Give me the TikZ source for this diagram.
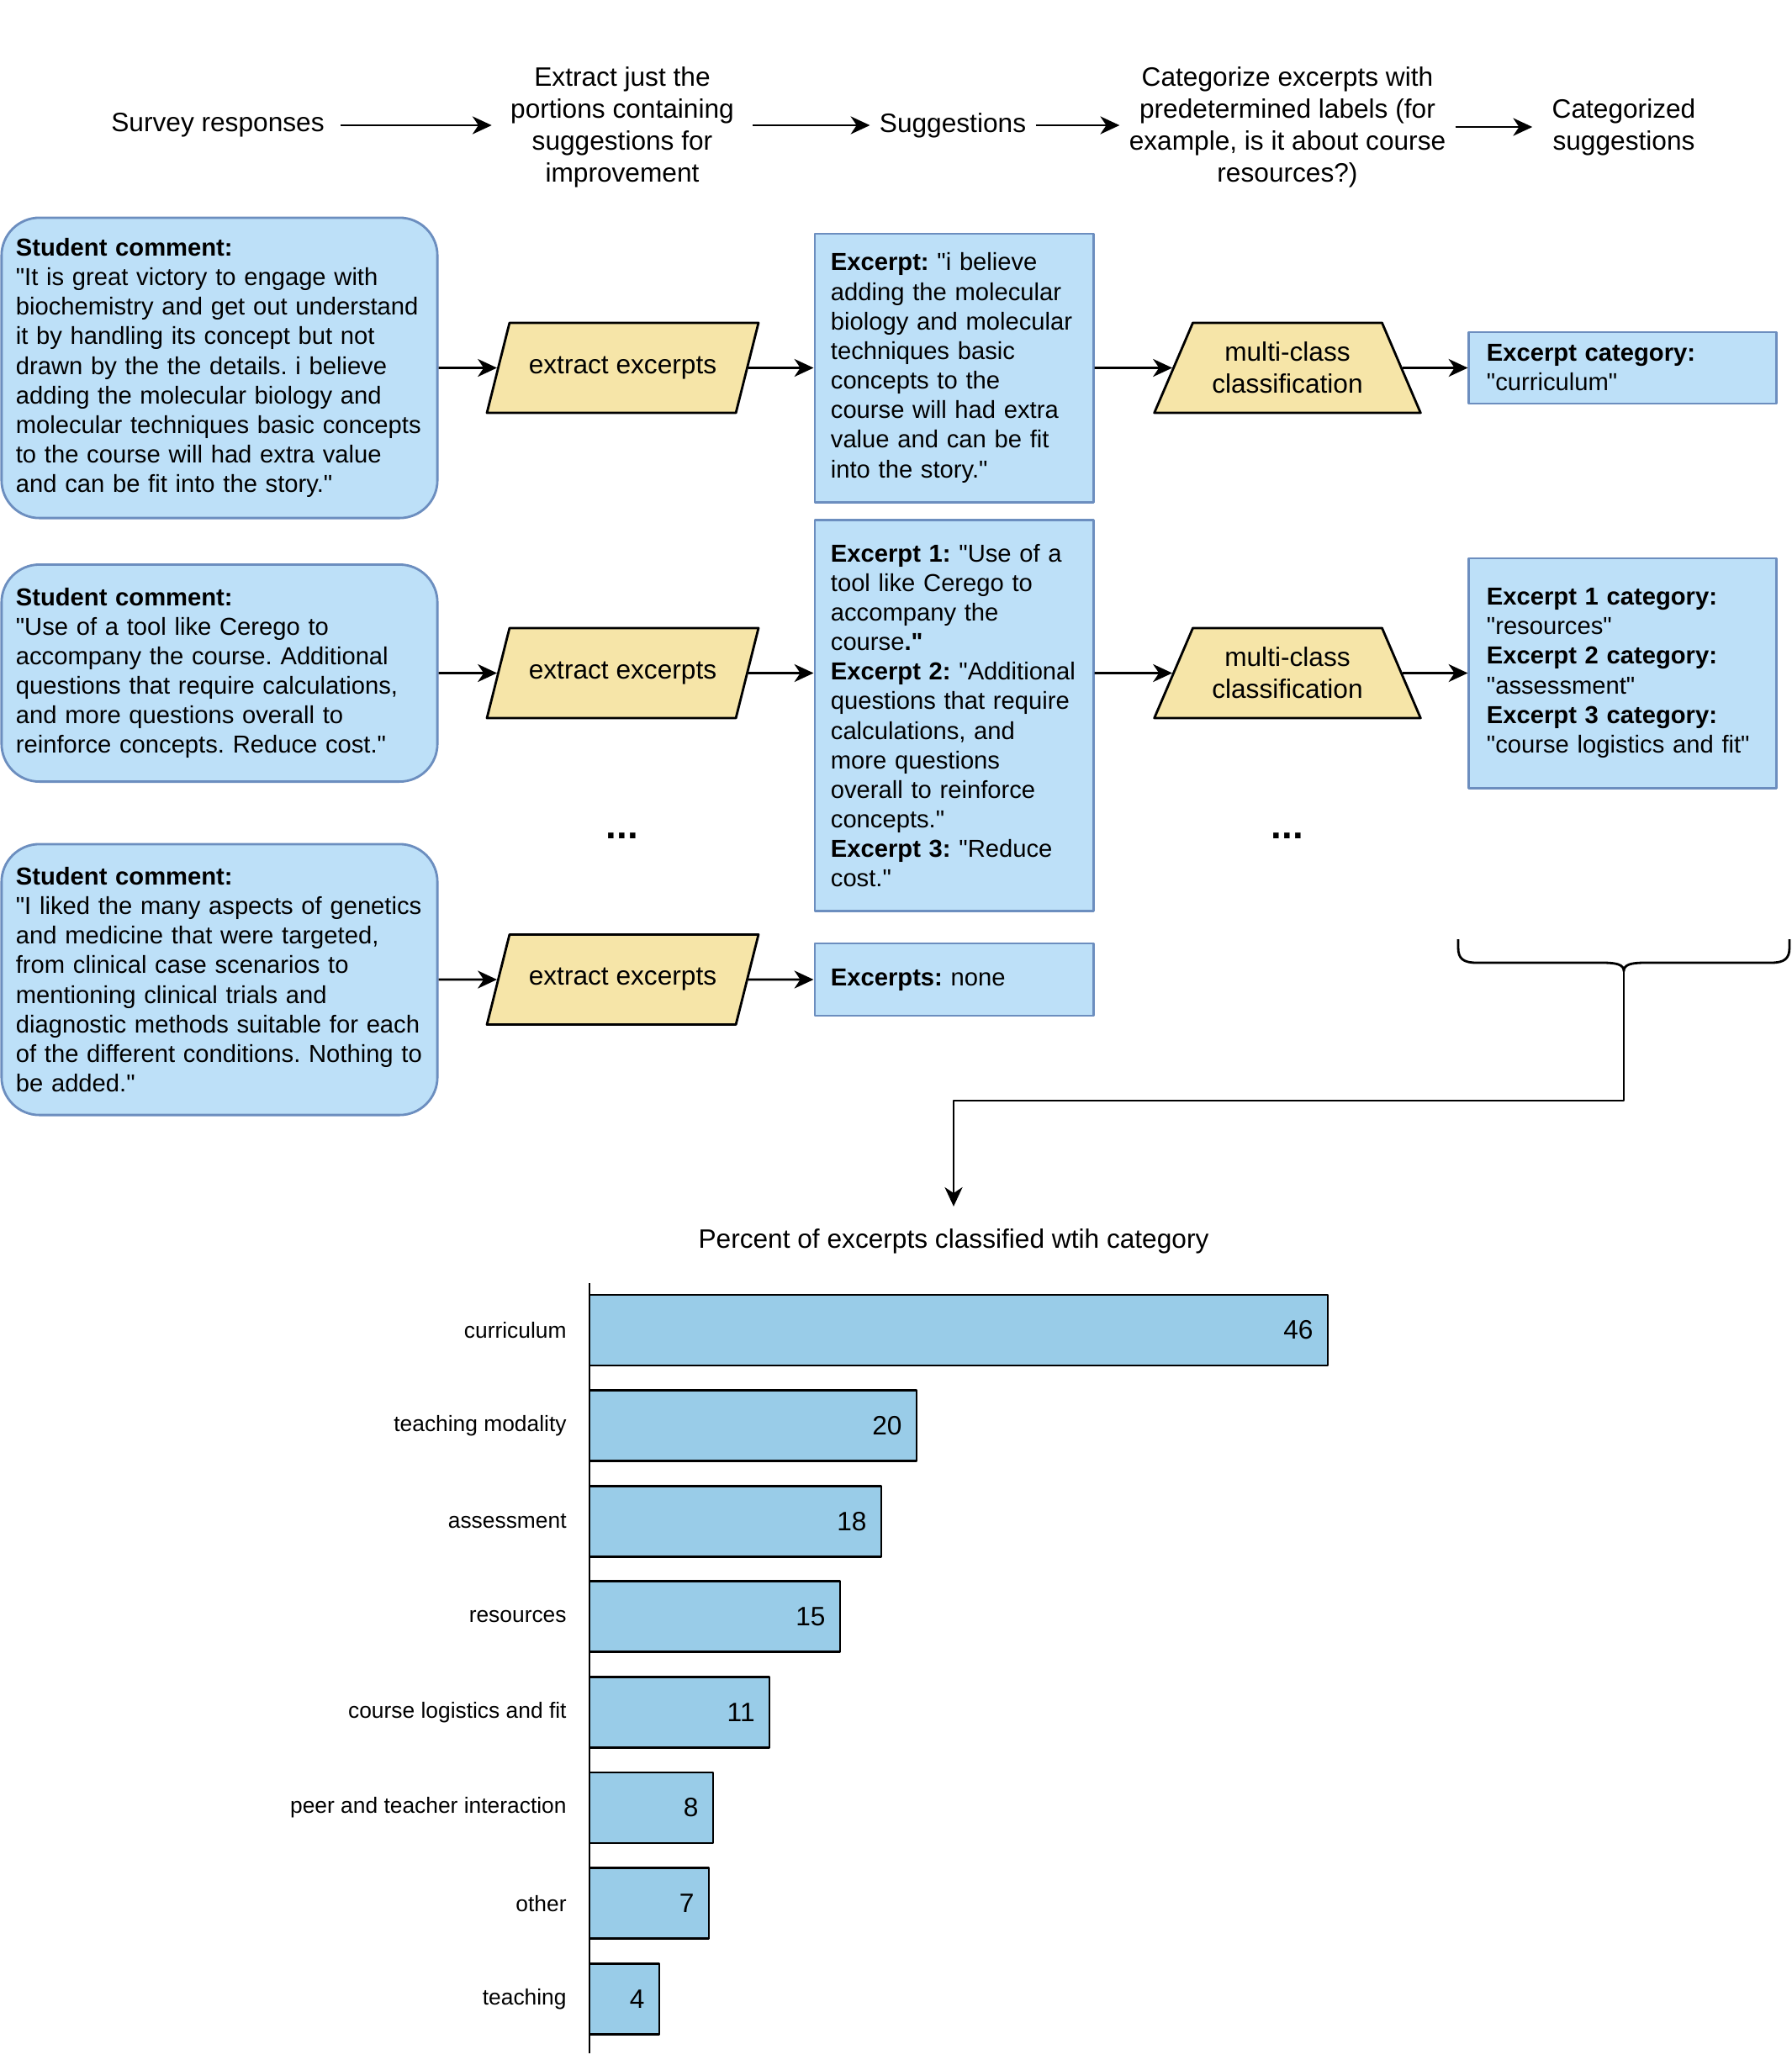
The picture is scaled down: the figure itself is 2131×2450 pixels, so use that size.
\documentclass[tikz,border=0pt]{standalone}
\usepackage{fontspec}
\setmainfont{Liberation Sans}[Ligatures=TeXOff]
\frenchspacing
\usetikzlibrary{shapes.geometric,arrows.meta,calc}
\definecolor{boxblue}{RGB}{189,224,248}
\definecolor{boxline}{RGB}{108,142,191}
\definecolor{stepyellow}{RGB}{246,229,168}
\definecolor{barblue}{RGB}{153,204,232}
\tikzset{
  toplabel/.style={align=center, inner ysep=0pt, font=\fontsize{9}{10.8}\selectfont},
  comment/.style={draw=boxline, fill=boxblue, line width=0.8pt, rounded corners=0.45cm,
    align=left, inner xsep=0.17cm, text width=4.84cm, font=\fontsize{8.3}{10}\selectfont},
  excerpt/.style={draw=boxline, fill=boxblue, line width=0.8pt, align=left,
    inner xsep=0.19cm, text width=2.93cm, font=\fontsize{8.3}{10}\selectfont},
  category/.style={draw=boxline, fill=boxblue, line width=0.8pt, align=left,
    inner xsep=0.21cm, text width=3.23cm, font=\fontsize{8.3}{10}\selectfont},
  extractbox/.style={trapezium, trapezium left angle=64, trapezium right angle=116,
    trapezium stretches=true, minimum width=3.25cm, minimum height=1.07cm,
    draw, fill=stepyellow, line width=0.8pt, font=\fontsize{9}{10.8}\selectfont},
  classbox/.style={trapezium, trapezium left angle=64, trapezium right angle=64,
    trapezium stretches=true, minimum width=3.17cm, minimum height=1.07cm, align=center,
    draw, fill=stepyellow, line width=0.8pt, font=\fontsize{9}{10.8}\selectfont},
  dots/.style={font=\fontsize{13}{15}\bfseries},
  bar/.style={draw, fill=barblue, line width=0.8pt},
  barlabel/.style={anchor=east, inner sep=0pt, font=\fontsize{7.5}{9}\selectfont},
  barvalue/.style={anchor=east, inner sep=0pt, font=\fontsize{9}{10.8}\selectfont}
}
\begin{document}
\begin{tikzpicture}[x=0.01cm, y=-0.01cm, line join=round, line width=0.8pt,
  >={Stealth[length=6.5pt,width=6pt,inset=2pt]}]
\useasboundingbox (0,0) rectangle (2131,2450);
% header
\node[toplabel, inner xsep=0.18cm] (survey) at (259,149) {Survey responses};
\node[toplabel, inner xsep=0.21cm] (extract) at (740,151) {Extract just the\\portions containing\\suggestions for\\improvement};
\node[toplabel, inner xsep=0.1cm] (sugg) at (1133,149) {Suggestions};
\node[toplabel, inner xsep=0.1cm] (categorize) at (1531,151) {Categorize excerpts with\\predetermined labels (for\\example, is it about course\\resources?)};
\node[toplabel, inner xsep=0.22cm] (result) at (1931,151) {Categorized\\suggestions};
\draw[->] (survey.east) -- (survey.east -| extract.west);
\draw[->] (extract.east |- sugg) -- (sugg.west);
\draw[->] (sugg.east) -- (sugg.east -| categorize.west);
\draw[->] (categorize.east) -- (categorize.east -| result.west);
% student comments
\node[comment, minimum height=3.57cm] (sc1) at (261,437.5) {\textbf{Student comment:}\\
"It is great victory to engage with\\biochemistry and get out understand\\it by handling its concept but not\\drawn by the the details. i believe\\adding the molecular biology and\\molecular techniques basic concepts\\to the course will had extra value\\and can be fit into the story."};
\node[comment, minimum height=2.58cm] (sc2) at (261,800.5) {\textbf{Student comment:}\\
"Use of a tool like Cerego to\\accompany the course. Additional\\questions that require calculations,\\and more questions overall to\\reinforce concepts. Reduce cost."};
\node[comment, minimum height=3.22cm] (sc3) at (261,1165) {\textbf{Student comment:}\\
"I liked the many aspects of genetics\\and medicine that were targeted,\\from clinical case scenarios to\\mentioning clinical trials and\\diagnostic methods suitable for each\\\mbox{of the different conditions. Nothing to}\\be added."};
% extraction
\node[extractbox] (ext1) at (740.5,437.5) {extract excerpts};
\node[extractbox] (ext2) at (740.5,800.5) {extract excerpts};
\node[extractbox] (ext3) at (740.5,1165) {extract excerpts};
\node[dots] (more1) at (740,994) {...};
% excerpts
\node[excerpt, minimum height=3.19cm] (exc1) at (1134.5,437.5) {\textbf{Excerpt:} "i believe\\adding the molecular\\biology and molecular\\techniques basic\\concepts to the\\course will had extra\\value and can be fit\\into the story."};
\node[excerpt, minimum height=4.64cm] (exc2) at (1134.5,851) {\textbf{Excerpt 1:} "Use of a\\tool like Cerego to\\accompany the\\course\textbf{."}\\\mbox{\textbf{Excerpt 2:} "Additional}\\questions that require\\calculations, and\\more questions\\overall to reinforce\\concepts."\\\textbf{Excerpt 3:} "Reduce\\cost."};
\node[excerpt, minimum height=0.86cm] (exc3) at (1134.5,1165) {\textbf{Excerpts:} none};
% classification
\node[classbox] (mc1) at (1531,437.5) {multi-class\\classification};
\node[classbox] (mc2) at (1531,800.5) {multi-class\\classification};
\node[dots] (more2) at (1531,994) {...};
\node[category, minimum height=0.85cm] (cat1) at (1929.5,437.5) {\textbf{Excerpt category:}\\"curriculum"};
\node[category, minimum height=2.73cm] (cat2) at (1929.5,800.5) {\textbf{Excerpt 1 category:}\\"resources"\\\textbf{Excerpt 2 category:}\\"assessment"\\\textbf{Excerpt 3 category:}\\"course logistics and fit"};
% connectors
\foreach \i in {1,2,3}{
\draw[->] (sc\i) -- (ext\i);
\draw[->] (ext\i) -- (ext\i -| exc\i.west);
}
\draw[->] (exc1) -- (mc1);
\draw[->] (exc2.east |- mc2) -- (mc2);
\draw[->] (mc1) -- (cat1);
\draw[->] (mc2) -- (cat2);
% brace
\draw (1734,1117) -- (1734,1127) .. controls (1734,1140) and (1740,1145) .. (1756,1145) -- (1906,1145)
  .. controls (1922,1145) and (1931,1147) .. (1931,1155) .. controls (1931,1147) and (1940,1145) .. (1956,1145)
  -- (2106,1145) .. controls (2122,1145) and (2128,1140) .. (2128,1127) -- (2128,1117);
\coordinate (brace) at (1931,1155);
% chart
\node[toplabel, inner ysep=0.25cm] (title) at (1134,1476) {Percent of excerpts classified wtih category};
\draw[->] (brace) -- ++(0,154) -| (title.north);
\draw (701,1526) -- (701,2442);
\foreach \lab/\val/\len [count=\i from 0] in {curriculum/46/878, teaching modality/20/389,
  assessment/18/347, resources/15/298, course logistics and fit/11/214,
  peer and teacher interaction/8/147, other/7/142, teaching/4/83}{
\pgfmathsetmacro\y{1540+113.6*\i}
\draw[bar] (701,\y) rectangle ++(\len,84);
\node[barlabel] (lab\i) at (675,{\y+42}) {\lab};
\node[barvalue] (val\i) at ({701+\len-16},{\y+42}) {\val};
}
\end{tikzpicture}
\end{document}
